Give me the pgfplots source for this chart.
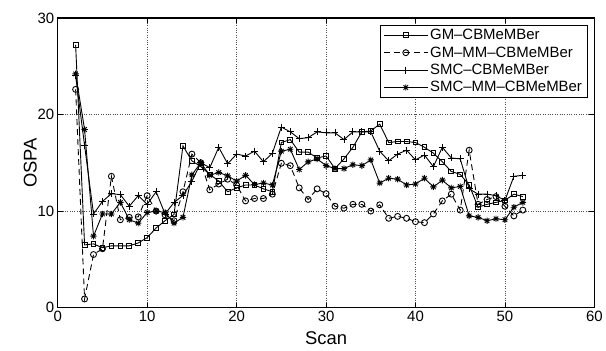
\documentclass[border=0pt]{standalone}
\usepackage{fontspec}
\setmainfont{Liberation Sans}
\usepackage{pgfplots}
\usepackage{pgfplotstable}
\pgfplotsset{compat=1.18}

\pgfdeclareplotmark{mast}{%
  \pgfpathmoveto{\pgfqpoint{-\pgfplotmarksize}{0pt}}\pgfpathlineto{\pgfqpoint{\pgfplotmarksize}{0pt}}%
  \pgfpathmoveto{\pgfqpoint{0pt}{-\pgfplotmarksize}}\pgfpathlineto{\pgfqpoint{0pt}{\pgfplotmarksize}}%
  \pgfpathmoveto{\pgfqpoint{-0.707\pgfplotmarksize}{-0.707\pgfplotmarksize}}\pgfpathlineto{\pgfqpoint{0.707\pgfplotmarksize}{0.707\pgfplotmarksize}}%
  \pgfpathmoveto{\pgfqpoint{-0.707\pgfplotmarksize}{0.707\pgfplotmarksize}}\pgfpathlineto{\pgfqpoint{0.707\pgfplotmarksize}{-0.707\pgfplotmarksize}}%
  \pgfusepathqstroke
  \pgfpathcircle{\pgfpointorigin}{0.45\pgfplotmarksize}\pgfusepathqfill}

\pgfplotstableread{
scan gm    gmmm  smc   smcmm
2    27.2  22.6  24.0  24.2
3    6.5   0.9   16.8  18.45
4    6.6   5.5   9.7   7.4
5    6.2   6.1   11.0  9.7
6    6.4   13.6  11.8  9.7
7    6.4   9.1   11.7  10.9
8    6.4   9.35  10.5  9.1
9    6.7   9.4   11.6  8.75
10   7.25  11.6  10.7  9.85
11   8.25  10.0  12.0  10.0
12   9.0   9.6   9.7   9.85
13   9.65  9.0   10.9  8.75
14   16.75 12.0  11.6  9.35
15   15.2  15.9  13.1  13.75
16   14.6  15.0  15.0  15.0
17   13.8  12.2  14.5  13.7
18   13.1  12.8  16.6  14.0
19   12.0  13.3  14.9  13.65
20   12.4  12.7  15.9  13.1
21   12.7  11.05 15.7  13.7
22   12.7  11.3  16.2  12.75
23   12.3  11.3  15.1  12.9
24   12.0  11.75 16.0  12.7
25   17.1  14.95 18.7  16.2
26   17.4  14.7  18.2  16.4
27   16.1  12.4  17.5  14.3
28   16.1  11.2  17.6  15.1
29   15.5  12.3  18.2  15.4
30   15.7  11.8  18.1  14.7
31   14.4  10.5  18.1  14.4
32   15.4  10.3  17.4  14.4
33   16.6  10.7  18.2  14.8
34   18.2  10.7  18.2  14.7
35   18.3  10.0  18.2  15.3
36   19.0  10.65 16.2  12.9
37   17.1  9.25  15.2  13.4
38   17.2  9.45  15.9  13.3
39   17.2  9.25  16.3  12.7
40   17.1  8.9   15.3  12.8
41   16.6  8.8   15.8  13.4
42   16.0  9.7   14.6  12.5
43   15.1  11.05 16.6  13.2
44   14.1  11.75 15.5  12.4
45   13.8  10.1  15.4  12.55
46   12.7  16.3  12.3  9.5
47   10.4  10.7  11.75 9.35
48   10.7  11.2  11.75 9.0
49   10.9  11.5  11.6  9.2
50   11.1  10.5  11.1  9.1
51   11.75 9.5   13.6  10.4
52   11.5  10.1  13.7  10.9
}\datatable

\begin{document}
\begin{tikzpicture}
\path (-58pt,-43pt) rectangle (548pt,309pt);
\begin{axis}[
  at={(0pt,0pt)}, anchor=south west,
  scale only axis, width=539pt, height=291pt,
  xmin=0, xmax=60, ymin=0, ymax=30,
  xtick={0,10,...,60}, ytick={0,10,20,30},
  grid=major,
  major grid style={dotted, line width=0.6pt, black!70},
  tick align=inside, tick pos=both, major tick length=5pt,
  axis line style={line width=1.2pt},
  every tick/.style={black, line width=0.8pt},
  tick label style={font=\fontsize{15}{18}\selectfont},
  label style={font=\fontsize{18.5}{22}\selectfont},
  xlabel={Scan}, ylabel={OSPA},
  xlabel style={yshift=-3pt},
  ylabel style={yshift=-6pt},
  /pgf/number format/assume math mode=true,
  legend cell align=left,
  legend style={at={(1,1)}, anchor=north east, xshift=-7pt, yshift=-7pt,
    font=\fontsize{15}{18}\selectfont, draw=black, line width=0.9pt,
    inner xsep=3pt, inner ysep=2pt, row sep=1.5pt},
  legend image code/.code={\draw[mark repeat=2,mark phase=2] plot coordinates {(0pt,0pt)(22pt,0pt)(44pt,0pt)};},
  every axis plot/.append style={line width=0.9pt, black},
]
\addplot[mark=square, mark size=2.4pt, mark options={solid, fill=none}] table[x=scan,y=gm] {\datatable};
\addlegendentry{GM--CBMeMBer}
\addplot[dash pattern=on 6pt off 4pt, mark=o, mark size=3pt, mark options={solid, fill=none}] table[x=scan,y=gmmm] {\datatable};
\addlegendentry{GM--MM--CBMeMBer}
\addplot[mark=+, mark size=3.5pt, mark options={solid}] table[x=scan,y=smc] {\datatable};
\addlegendentry{SMC--CBMeMBer}
\addplot[mark=mast, mark size=3.2pt, mark options={solid}] table[x=scan,y=smcmm] {\datatable};
\addlegendentry{SMC--MM--CBMeMBer}
\end{axis}
\end{tikzpicture}
\end{document}
